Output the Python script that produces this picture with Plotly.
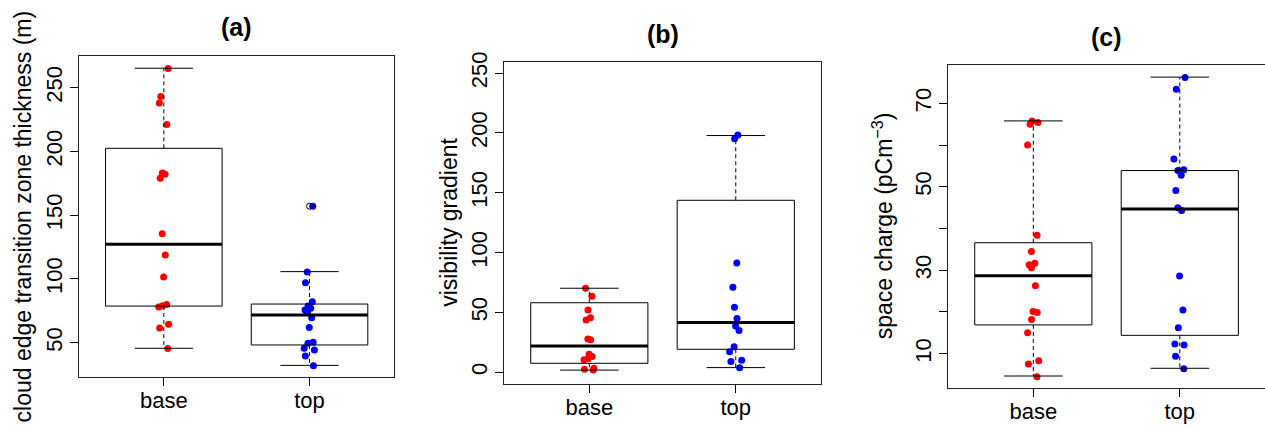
import plotly.graph_objects as go

# ---------------- data ----------------
groups = ["base", "top"]
group_pos = [1, 2]

# (a) cloud edge transition zone thickness (m)
a_base = [265, 243, 238, 221, 183, 182, 179, 135.5, 118.7, 101.5, 80, 79, 78, 64.5, 61.5, 45.5]
a_top = [157, 105.5, 97, 82, 78.7, 77, 75.6, 73.8, 69.6, 62, 50.3, 49.5, 45.6, 44.2, 39.5, 32]
a_lower = [45.6, 32.2]
a_q1 = [78.7, 48.2]
a_median = [127.1, 71.7]
a_q3 = [202.4, 80.3]
a_upper = [265.2, 105.7]
a_outlier_group = ["top"]
a_outlier_val = [157]

# (b) visibility gradient
b_base = [70.2, 63.5, 52.0, 45.5, 43.7, 27.8, 27.2, 15.0, 13.2, 11.2, 10.5, 3.3, 2.5, 1.8]
b_top = [198.2, 195.2, 91.4, 71.0, 54.3, 44.9, 38.7, 34.8, 21.4, 17.2, 10.0, 9.0, 3.8]
b_lower = [1.8, 3.9]
b_q1 = [7.5, 19.2]
b_median = [22.0, 41.6]
b_q3 = [58.1, 143.7]
b_upper = [70.2, 197.8]

# (c) space charge (pC m^-3)
c_base = [65.8, 65.4, 65.0, 60.0, 38.4, 34.5, 31.7, 31.3, 30.6, 26.3, 20.1, 19.9, 18.2, 15.0, 8.3, 7.5, 4.5]
c_top = [76.2, 73.4, 56.7, 54.1, 53.9, 52.8, 49.1, 45.0, 44.3, 28.6, 20.5, 16.2, 12.3, 12.1, 9.4, 6.4]
c_lower = [4.65, 6.5]
c_q1 = [16.9, 14.4]
c_median = [28.7, 44.7]
c_q3 = [36.6, 53.9]
c_upper = [65.8, 76.3]

a_ticks = [50, 100, 150, 200, 250]
b_ticks = [0, 50, 100, 150, 200, 250]
c_ticks = [10, 30, 50, 70]
c_unlabelled_ticks = [20, 40, 60]

panel_titles = ["(a)", "(b)", "(c)"]
y_titles = ["cloud edge transition zone thickness (m)", "visibility gradient",
            "space charge (pCm<sup>\u22123</sup>)"]

# ---------------- styling ----------------
FONT = "Liberation Sans, Arial, Helvetica, sans-serif"
RED = "#FF0000"
BLUE = "#0000FF"
BOX_HALF = 0.4
CAP_HALF = 0.2

fig = go.Figure()


def add_box(xa, ya, pos, lo, q1, med, q3, hi):
    ln = dict(color="black", width=1)
    fig.add_trace(go.Scatter(
        x=[pos - BOX_HALF, pos + BOX_HALF, pos + BOX_HALF, pos - BOX_HALF, pos - BOX_HALF],
        y=[q1, q1, q3, q3, q1], mode="lines", line=ln, xaxis=xa, yaxis=ya,
        showlegend=False, hoverinfo="skip"))
    fig.add_trace(go.Scatter(
        x=[pos - BOX_HALF, pos + BOX_HALF], y=[med, med], mode="lines",
        line=dict(color="black", width=3), xaxis=xa, yaxis=ya,
        showlegend=False, hoverinfo="skip"))
    fig.add_trace(go.Scatter(
        x=[pos, pos, None, pos, pos], y=[q3, hi, None, q1, lo], mode="lines",
        line=dict(color="black", width=1, dash="4px,3px"), xaxis=xa, yaxis=ya,
        showlegend=False, hoverinfo="skip"))
    fig.add_trace(go.Scatter(
        x=[pos - CAP_HALF, pos + CAP_HALF, None, pos - CAP_HALF, pos + CAP_HALF],
        y=[hi, hi, None, lo, lo], mode="lines", line=ln, xaxis=xa, yaxis=ya,
        showlegend=False, hoverinfo="skip"))


def add_points(xa, ya, pos, vals, color):
    fig.add_trace(go.Box(
        x=[pos] * len(vals), y=vals, boxpoints="all", jitter=0.13, pointpos=0,
        width=2 * BOX_HALF, fillcolor="rgba(0,0,0,0)",
        line=dict(width=0, color="rgba(0,0,0,0)"),
        marker=dict(color=color, size=7, line=dict(width=0)),
        xaxis=xa, yaxis=ya, showlegend=False, hoveron="points"))


panels = [
    ("x", "y", a_base, a_top, a_lower, a_q1, a_median, a_q3, a_upper),
    ("x2", "y2", b_base, b_top, b_lower, b_q1, b_median, b_q3, b_upper),
    ("x3", "y3", c_base, c_top, c_lower, c_q1, c_median, c_q3, c_upper),
]

for xa, ya, base, top, lo, q1, med, q3, hi in panels:
    for i, pos in enumerate(group_pos):
        add_box(xa, ya, pos, lo[i], q1[i], med[i], q3[i], hi[i])
    add_points(xa, ya, group_pos[0], base, RED)
    add_points(xa, ya, group_pos[1], top, BLUE)

# outlier (open circle) in panel (a)
fig.add_trace(go.Scatter(
    x=[group_pos[groups.index(g)] for g in a_outlier_group], y=a_outlier_val,
    mode="markers", marker=dict(symbol="circle-open", size=6, color="black",
                                line=dict(width=1)),
    xaxis="x", yaxis="y", showlegend=False, hoverinfo="skip"))

x_domains = [[0.0627, 0.3115], [0.3987, 0.6488], [0.7497, 0.9998]]
y_domains = [[0.1233, 0.8698], [0.1070, 0.8565], [0.0984, 0.8488]]
y_ranges = [[23.1, 274.8], [-9.8, 259.5], [1.85, 79.2]]
y_tickvals = [a_ticks, b_ticks, c_ticks]
y_minor = [None, None, c_unlabelled_ticks]

axis_common = dict(showline=True, mirror=True, linecolor="#222222", linewidth=1,
                   ticks="outside", ticklen=8, tickcolor="black", tickwidth=1,
                   showgrid=False, zeroline=False, automargin=False,
                   tickfont=dict(family=FONT, size=22, color="black"))

layout = dict(
    width=1265, height=430, margin=dict(l=0, r=0, t=0, b=0, pad=0),
    autosize=False,
    paper_bgcolor="white", plot_bgcolor="white", showlegend=False,
    boxmode="overlay", font=dict(family=FONT, color="black"),
)

for k in range(3):
    sx = "" if k == 0 else str(k + 1)
    layout["xaxis" + sx] = dict(
        domain=x_domains[k], range=[0.42, 2.58], anchor="y" + sx,
        tickmode="array", tickvals=group_pos, ticktext=groups,
        ticklabelstandoff=-4, **axis_common)
    yax = dict(
        domain=y_domains[k], range=y_ranges[k], anchor="x" + sx,
        tickmode="array", tickvals=y_tickvals[k],
        ticktext=[str(t) for t in y_tickvals[k]],
        tickangle=-90, **axis_common)
    if y_minor[k] is not None:
        yax["minor"] = dict(tickmode="array", tickvals=y_minor[k], ticks="outside",
                            ticklen=8, tickcolor="black", tickwidth=1, showgrid=False)
    layout["yaxis" + sx] = yax

fig.update_layout(**layout)

# panel titles
title_y = [1 - 27 / 430, 1 - 34 / 430, 1 - 37 / 430]
for k in range(3):
    fig.add_annotation(
        x=sum(x_domains[k]) / 2, y=title_y[k], xref="paper", yref="paper",
        text="<b>" + panel_titles[k] + "</b>", showarrow=False,
        font=dict(family=FONT, size=25, color="black"),
        xanchor="center", yanchor="middle")

# y-axis titles
ytitle_x = [23 / 1265, 449 / 1265, 883 / 1265]
ytitle_y = [sum(d) / 2 for d in y_domains]
for k in range(3):
    fig.add_annotation(
        x=ytitle_x[k], y=ytitle_y[k], xref="paper", yref="paper",
        text=y_titles[k], textangle=-90, showarrow=False,
        font=dict(family=FONT, size=23, color="black"),
        xanchor="center", yanchor="middle")

fig.write_html(
    "out.html",
    config={"responsive": False, "displayModeBar": False},
    post_script="document.body.style.margin='0';document.body.style.overflow='hidden';",
)
